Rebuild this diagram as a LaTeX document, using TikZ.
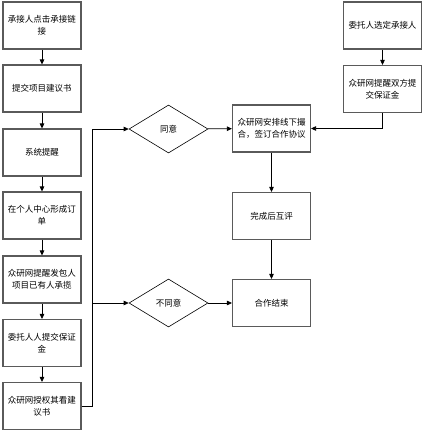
\documentclass[tikz,border=0pt]{standalone}
\usepackage{fontspec}
\setmainfont{Noto Sans CJK SC}
\usepackage{tikz}
\usetikzlibrary{arrows.meta,shapes.geometric}
\definecolor{boxgray}{RGB}{90,90,90}

\begin{document}
\begin{tikzpicture}[x=1pt,y=-1pt,>={Triangle[length=5pt,width=4.5pt]},
  every node/.style={font=\fontsize{8.5}{12}\selectfont},
  stepbox/.style={draw=boxgray,line width=1.1pt,minimum width=78pt,minimum height=47pt,inner sep=2pt,align=center},
  choice/.style={draw,diamond,line width=0.6pt,aspect=1.65,minimum width=79pt,minimum height=48pt,inner sep=0pt},
  flow/.style={->,line width=0.8pt}]
\useasboundingbox (0,0) rectangle (424,432);
% left column
\node[stepbox] (click) at (42,25.5) {承接人点击承接链\\接};
\node[stepbox] (submit) at (42,88.5) {提交项目建议书};
\node[stepbox] (remind) at (42,152.5) {系统提醒};
\node[stepbox] (order) at (42,215.5) {在个人中心形成订\\单};
\node[stepbox] (notify) at (42,279.5) {众研网提醒发包人\\项目已有人承揽};
\node[stepbox] (deposit) at (42,343) {委托人人提交保证\\金};
\node[stepbox] (grant) at (42,406) {众研网授权其看建\\议书};
% decisions
\node[choice] (agree) at (168.5,129) {同意};
\node[choice] (refuse) at (168.5,303) {不同意};
% middle column
\node[stepbox] (match) at (271.5,128.5) {众研网安排线下撮\\合，签订合作协议};
\node[stepbox] (review) at (271.5,216) {完成后互评};
\node[stepbox] (finish) at (271.5,303) {合作结束};
% right column
\node[stepbox] (select) at (382.5,25.5) {委托人选定承接人};
\node[stepbox] (both) at (382.5,89) {众研网提醒双方提\\交保证金};

\draw[flow] (click) -- (submit);
\draw[flow] (submit) -- (remind);
\draw[flow] (remind) -- (order);
\draw[flow] (order) -- (notify);
\draw[flow] (notify) -- (deposit);
\draw[flow] (deposit) -- (grant);
\draw[flow] (grant.east) -- ++(11,0) |- (agree.west);
\draw[flow] (grant.east) -- ++(11,0) |- (refuse.west);
\draw[flow] (agree) -- (match);
\draw[flow] (refuse) -- (finish);
\draw[flow] (select) -- (both);
\draw[flow] (both.south) |- (match.east);
\draw[flow] (match) -- (review);
\draw[flow] (review) -- (finish);
\end{tikzpicture}
\end{document}
